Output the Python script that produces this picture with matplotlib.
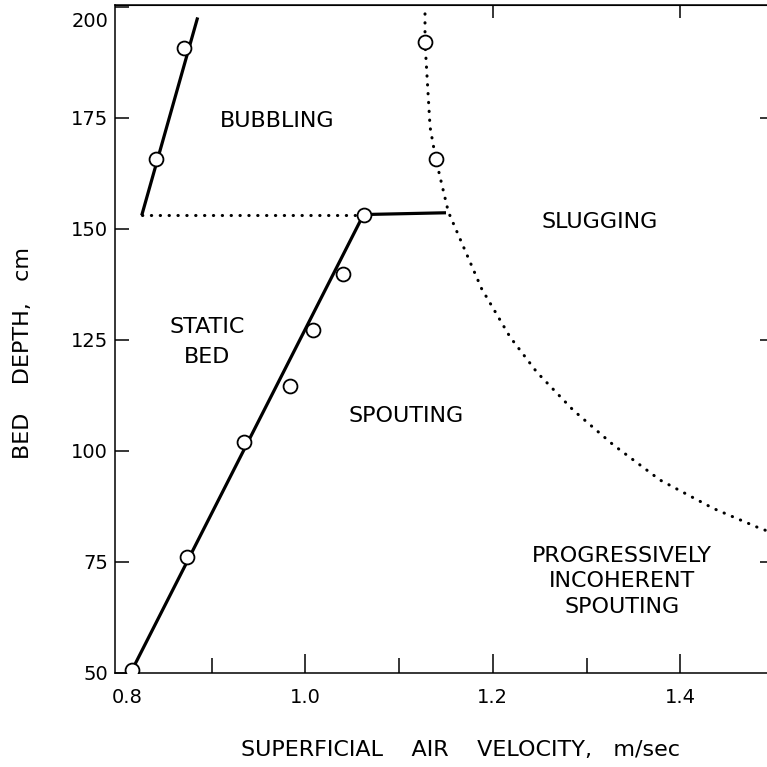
import matplotlib
matplotlib.use("Agg")
import matplotlib.pyplot as plt
import matplotlib.transforms as mtransforms

# spouting boundary: measured points and the straight fitted line
spout_x = [0.815, 0.874, 0.9345, 0.984, 1.0076, 1.040, 1.062]
spout_y = [50.6, 76.0, 101.9, 114.5, 127.3, 139.9, 153.2]
fit_x = [0.815, 1.062, 1.150]
fit_y = [50.6, 153.2, 153.6]

# bubbling boundary
bubble_line_x = [0.8253, 0.885]
bubble_line_y = [153.0, 197.6]
bubble_pts_x = [0.8402, 0.8708]
bubble_pts_y = [165.6, 190.8]

# dotted horizontal (static bed / bubbling)
static_x = [0.8253, 1.062]
static_y = [153.0, 153.0]

# dotted slugging / incoherent boundary
slug_x = [1.1276, 1.1276, 1.133, 1.139, 1.1525, 1.188, 1.2184, 1.2469,
          1.2859, 1.3286, 1.3784, 1.4353, 1.4852, 1.50]
slug_y = [198.4, 192.0, 172.9, 165.8, 153.8, 136.5, 125.6, 117.7,
          109.1, 101.3, 93.4, 87.0, 82.5, 81.4]
slug_pts_x = [1.1276, 1.139]
slug_pts_y = [192.0, 165.8]

x_major = [1.0, 1.2, 1.4]
x_minor = [0.9, 1.1, 1.3]
y_ticks = [50, 75, 100, 125, 150, 175, 200]

plt.rcParams['font.family'] = 'DejaVu Sans'

fig = plt.figure(figsize=(7.67, 7.67), dpi=100)
W = 767.0
ax = fig.add_axes([115 / W, (W - 672.7) / W, (774 - 115) / W, (672.7 - 5) / W])

lw = 2.3
dot = dict(color='black', lw=2.2, linestyle=(0, (0.1, 2.8)), dash_capstyle='round')
mk = dict(marker='o', ms=10, mfc='white', mec='black', mew=1.3, ls='none', zorder=5)

ax.plot(fit_x, fit_y, color='black', lw=lw, solid_capstyle='butt')
ax.plot(spout_x, spout_y, **mk)

ax.plot(bubble_line_x, bubble_line_y, color='black', lw=lw, solid_capstyle='butt')
ax.plot(bubble_pts_x, bubble_pts_y, **mk)

ax.plot(static_x, static_y, **dot)
ax.plot(slug_x, slug_y, **dot)
ax.plot(slug_pts_x, slug_pts_y, **mk)

fs = 16
ax.text(0.9694, 174.3, 'BUBBLING', fontsize=fs, ha='center', va='center')
ax.text(1.3144, 151.5, 'SLUGGING', fontsize=fs, ha='center', va='center')
ax.text(0.8955, 124.5, 'STATIC\nBED', fontsize=fs, ha='center', va='center',
        linespacing=1.6)
ax.text(1.1074, 107.8, 'SPOUTING', fontsize=fs, ha='center', va='center')
ax.text(1.3379, 70.6, 'PROGRESSIVELY\nINCOHERENT\nSPOUTING', fontsize=fs,
        ha='center', va='center', linespacing=1.35)

ax.set_xlim(0.7968, 1.5)
ax.set_ylim(50, 200.4)

ax.set_xticks(x_major)
ax.set_xticklabels(['1.0', '1.2', '1.4'])
ax.set_xticks(x_minor, minor=True)
ax.set_yticks(y_ticks)
ax.tick_params(axis='x', which='major', direction='in', length=14, width=1.1,
               labelsize=14, pad=11)
ax.tick_params(axis='x', which='minor', direction='in', length=10.5, width=1.1)
ax.tick_params(axis='y', direction='in', length=10, width=1.1, labelsize=14, pad=5)

# the 0.8 label sits just right of the corner, no tick drawn there
trans = mtransforms.blended_transform_factory(ax.transData, ax.transAxes)
ax.text(0.8093, -0.0225, '0.8', transform=trans, fontsize=14, ha='center', va='top')

# top label "200" is drawn a little below its tick in the original
lab200 = ax.get_yticklabels()[-1]
lab200.set_transform(lab200.get_transform() +
                     mtransforms.ScaledTranslation(0, -9 / 72, fig.dpi_scale_trans))

for s in ax.spines.values():
    s.set_linewidth(1.1)

top = ax.secondary_xaxis('top')
top.set_xticks([1.2, 1.4])
top.set_xticklabels([])
top.tick_params(direction='in', length=9, width=1.1)
right = ax.secondary_yaxis('right')
right.set_yticks([75, 125, 175])
right.set_yticklabels([])
right.tick_params(direction='in', length=10, width=1.1)

fig.text(460 / W, 1 - 750 / W, 'SUPERFICIAL    AIR    VELOCITY,   m/sec',
         fontsize=fs, ha='center', va='center')
fig.text(23.5 / W, 1 - 353 / W, 'BED    DEPTH,   cm', fontsize=fs,
         ha='center', va='center', rotation=90)

fig.savefig('out.png', dpi=100)
